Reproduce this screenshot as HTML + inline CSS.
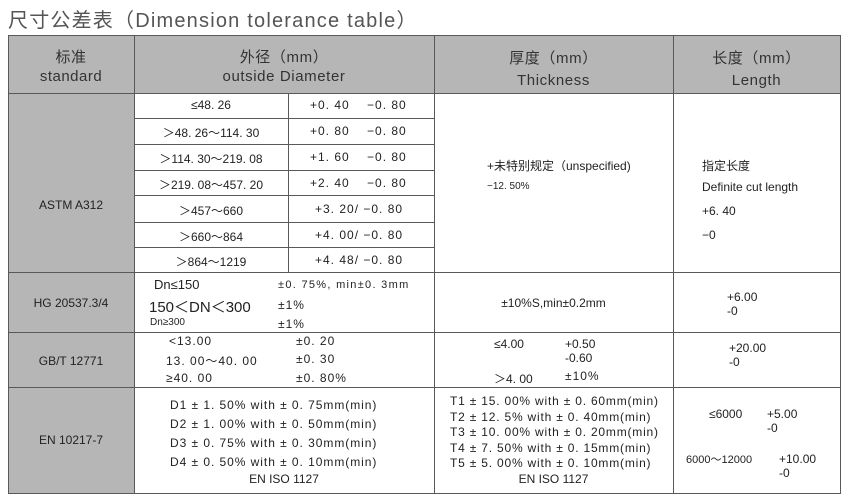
<!DOCTYPE html>
<html><head><meta charset="utf-8"><style>
body{margin:0;width:850px;height:500px;background:#fff;position:relative;overflow:hidden;font-family:"Liberation Sans","Noto Sans CJK SC",sans-serif;color:#222}
.a{position:absolute;white-space:nowrap}
.h{position:absolute;background:#595959}
.t{font-size:12px}
.s{letter-spacing:1px}
.c{text-align:center}
</style></head><body>
<div class="a" style="left:8px;top:4px;font-size:20px;color:#555;letter-spacing:1.2px">尺寸公差表（Dimension tolerance table）</div>
<div class="a" style="left:8px;top:35px;width:832px;height:58px;background:#b6b6b6"></div>
<div class="a" style="left:8px;top:93px;width:126px;height:400px;background:#b6b6b6"></div>
<div class="h" style="left:8px;top:35px;width:833px;height:1px"></div>
<div class="h" style="left:8px;top:93px;width:833px;height:1px"></div>
<div class="h" style="left:134px;top:118px;width:300px;height:1px"></div>
<div class="h" style="left:134px;top:144px;width:300px;height:1px"></div>
<div class="h" style="left:134px;top:170px;width:300px;height:1px"></div>
<div class="h" style="left:134px;top:195px;width:300px;height:1px"></div>
<div class="h" style="left:134px;top:222px;width:300px;height:1px"></div>
<div class="h" style="left:134px;top:247px;width:300px;height:1px"></div>
<div class="h" style="left:8px;top:272px;width:833px;height:1px"></div>
<div class="h" style="left:8px;top:332px;width:833px;height:1px"></div>
<div class="h" style="left:8px;top:387px;width:833px;height:1px"></div>
<div class="h" style="left:8px;top:493px;width:833px;height:1px"></div>
<div class="h" style="left:8px;top:35px;width:1px;height:459px"></div>
<div class="h" style="left:134px;top:35px;width:1px;height:459px"></div>
<div class="h" style="left:288px;top:93px;width:1px;height:180px"></div>
<div class="h" style="left:434px;top:35px;width:1px;height:459px"></div>
<div class="h" style="left:673px;top:35px;width:1px;height:459px"></div>
<div class="h" style="left:840px;top:35px;width:1px;height:459px"></div>
<div class="a c" style="left:8px;width:126px;top:48px;font-size:15px;line-height:19px;color:#333;letter-spacing:0.5px">标准<br>standard</div>
<div class="a c" style="left:134px;width:300px;top:48px;font-size:15px;line-height:19px;color:#333;letter-spacing:0.6px">外径（mm）<br>outside Diameter</div>
<div class="a c" style="left:434px;width:239px;top:48px;font-size:15px;line-height:22px;color:#333;letter-spacing:0.6px">厚度（mm）<br>Thickness</div>
<div class="a c" style="left:673px;width:167px;top:48px;font-size:15px;line-height:22px;color:#333;letter-spacing:0.6px">长度（mm）<br>Length</div>
<div class="a c t" style="left:8px;width:126px;top:198px">ASTM A312</div>
<div class="a c t" style="left:134px;width:154px;top:98px">≤48. 26</div>
<div class="a c t" style="left:134px;width:154px;top:124px">＞48. 26～114. 30</div>
<div class="a c t" style="left:134px;width:154px;top:150px">＞114. 30～219. 08</div>
<div class="a c t" style="left:134px;width:154px;top:176px">＞219. 08～457. 20</div>
<div class="a c t" style="left:134px;width:154px;top:202px">＞457～660</div>
<div class="a c t" style="left:134px;width:154px;top:228px">＞660～864</div>
<div class="a c t" style="left:134px;width:154px;top:253px">＞864～1219</div>
<div class="a t s" style="left:310px;top:98px">+0. 40&nbsp;&nbsp;&nbsp;&nbsp;−0. 80</div>
<div class="a t s" style="left:310px;top:124px">+0. 80&nbsp;&nbsp;&nbsp;&nbsp;−0. 80</div>
<div class="a t s" style="left:310px;top:150px">+1. 60&nbsp;&nbsp;&nbsp;&nbsp;−0. 80</div>
<div class="a t s" style="left:310px;top:176px">+2. 40&nbsp;&nbsp;&nbsp;&nbsp;−0. 80</div>
<div class="a t s" style="left:315px;top:202px">+3. 20/ −0. 80</div>
<div class="a t s" style="left:315px;top:228px">+4. 00/ −0. 80</div>
<div class="a t s" style="left:315px;top:253px">+4. 48/ −0. 80</div>
<div class="a t" style="left:487px;top:157px">+未特别规定（unspecified)</div>
<div class="a" style="left:487px;top:181px;font-size:10px">−12. 50%</div>
<div class="a t" style="left:702px;top:157px">指定长度</div>
<div class="a t" style="left:702px;top:180px">Definite cut length</div>
<div class="a t" style="left:702px;top:204px">+6. 40</div>
<div class="a t" style="left:702px;top:228px">−0</div>
<div class="a c t" style="left:8px;width:126px;top:296px">HG 20537.3/4</div>
<div class="a" style="left:154px;top:277px;font-size:13px">Dn≤150</div>
<div class="a" style="left:149px;top:296px;font-size:15px">150＜DN＜300</div>
<div class="a" style="left:150px;top:317px;font-size:10px">Dn≥300</div>
<div class="a" style="left:278px;top:279px;font-size:11px;letter-spacing:1.3px">±0. 75%, min±0. 3mm</div>
<div class="a t s" style="left:278px;top:298px">±1%</div>
<div class="a t s" style="left:278px;top:317px">±1%</div>
<div class="a c t" style="left:434px;width:239px;top:296px">±10%S,min±0.2mm</div>
<div class="a t" style="left:727px;top:290px;line-height:14px">+6.00<br>-0</div>
<div class="a c t" style="left:8px;width:126px;top:354px">GB/T 12771</div>
<div class="a t s" style="left:169px;top:334px">&lt;13.00</div>
<div class="a t s" style="left:166px;top:352px">13. 00～40. 00</div>
<div class="a t s" style="left:166px;top:371px">≥40. 00</div>
<div class="a t s" style="left:296px;top:334px">±0. 20</div>
<div class="a t s" style="left:296px;top:352px">±0. 30</div>
<div class="a t s" style="left:296px;top:371px">±0. 80%</div>
<div class="a t" style="left:494px;top:337px">≤4.00</div>
<div class="a t" style="left:565px;top:337px;line-height:14px">+0.50<br>-0.60</div>
<div class="a t" style="left:494px;top:370px">＞4. 00</div>
<div class="a t s" style="left:565px;top:369px">±10%</div>
<div class="a t" style="left:729px;top:341px;line-height:14px">+20.00<br>-0</div>
<div class="a c t" style="left:8px;width:126px;top:433px">EN 10217-7</div>
<div class="a t" style="left:170px;top:396px;line-height:19px;letter-spacing:0.95px">D1 ± 1. 50% with ± 0. 75mm(min)<br>D2 ± 1. 00% with ± 0. 50mm(min)<br>D3 ± 0. 75% with ± 0. 30mm(min)<br>D4 ± 0. 50% with ± 0. 10mm(min)</div>
<div class="a c t" style="left:134px;width:300px;top:472px">EN ISO 1127</div>
<div class="a t" style="left:450px;top:394px;line-height:15.5px;letter-spacing:0.8px">T1 ± 15. 00% with ± 0. 60mm(min)<br>T2 ± 12. 5% with ± 0. 40mm(min)<br>T3 ± 10. 00% with ± 0. 20mm(min)<br>T4 ± 7. 50% with ± 0. 15mm(min)<br>T5 ± 5. 00% with ± 0. 10mm(min)</div>
<div class="a c t" style="left:434px;width:239px;top:472px">EN ISO 1127</div>
<div class="a t" style="left:709px;top:407px">≤6000</div>
<div class="a t" style="left:767px;top:407px;line-height:14px">+5.00<br>-0</div>
<div class="a" style="left:686px;top:451px;font-size:11px">6000～12000</div>
<div class="a t" style="left:779px;top:452px;line-height:14px">+10.00<br>-0</div>
</body></html>
